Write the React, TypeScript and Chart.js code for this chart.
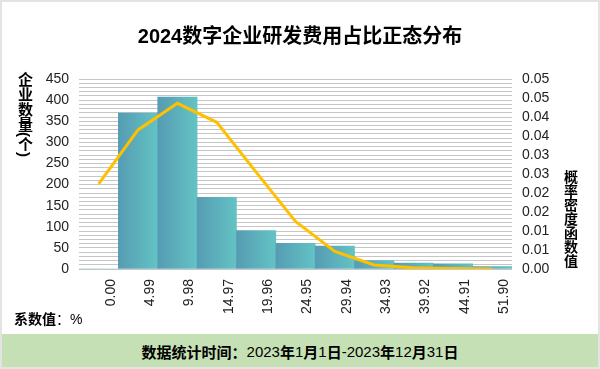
import React, { useEffect, useRef } from "react";
import { Chart, registerables } from "chart.js";

Chart.register(...registerables);

const TITLE = "2024数字企业研发费用占比正态分布";
const categories = ["0.00", "4.99", "9.98", "14.97", "19.96", "24.95", "29.94", "34.93", "39.92", "44.91", "51.90"];
const counts = [0, 369, 407, 170, 91, 61, 54, 20, 14, 12, 6];
const density = [0.0224, 0.0366, 0.0436, 0.0386, 0.0255, 0.0125, 0.0046, 0.00105, 0.0003, 0.0001, 0.00003];
const rightTickLabels = ["0.00", "0.01", "0.01", "0.02", "0.02", "0.03", "0.03", "0.04", "0.04", "0.05", "0.05"];
const LEFT_TITLE = "企业数量(个)";
const RIGHT_TITLE = "概率密度函数值";
const X_NOTE_BOLD = "系数值";
const X_NOTE_REST = "：%";
const FOOTER = "数据统计时间：2023年1月1日-2023年12月31日";

const FONT = '"Liberation Sans", Arial, "Noto Sans CJK SC", sans-serif';

function splitCjk(s: string) {
  const parts: { t: string; cjk: boolean }[] = [];
  for (const ch of s) {
    const cjk = /[\u3000-\u9fff\uff00-\uffef]/.test(ch);
    const last = parts[parts.length - 1];
    if (last && last.cjk === cjk) last.t += ch;
    else parts.push({ t: ch, cjk });
  }
  return parts;
}

export default function App() {
  const ref = useRef<HTMLCanvasElement | null>(null);

  useEffect(() => {
    if (!ref.current) return;
    const chart = new Chart(ref.current, {
      type: "bar",
      data: {
        labels: categories,
        datasets: [
          {
            type: "line",
            data: density,
            yAxisID: "y1",
            borderColor: "#FFC000",
            borderWidth: 3,
            pointRadius: 0,
            tension: 0,
            fill: false,
          } as any,
          {
            type: "bar",
            data: counts,
            yAxisID: "y",
            categoryPercentage: 1,
            barPercentage: 1,
            borderWidth: 0,
            backgroundColor: (c: any) => {
              const ch = c.chart;
              const xs = ch.scales && ch.scales.x;
              if (!xs || c.dataIndex === undefined) return "#5fb3bb";
              const px = xs.getPixelForValue(c.dataIndex);
              const w = xs.width / categories.length;
              const x0 = px - w / 2;
              const x1 = px + w / 2;
              if (!Number.isFinite(x0) || !Number.isFinite(x1) || w <= 0) return "#5fb3bb";
              const g = ch.ctx.createLinearGradient(x0, 0, x1, 0);
              g.addColorStop(0, "#569cb3");
              g.addColorStop(1, "#63c3c4");
              return g;
            },
          },
        ],
      },
      options: {
        animation: false,
        responsive: false,
        maintainAspectRatio: false,
        layout: { padding: { left: 0, right: 0, top: 0, bottom: 0 } },
        plugins: {
          legend: { display: false },
          tooltip: { enabled: false },
          title: {
            display: true,
            text: TITLE,
            color: "#000",
            font: { family: FONT, size: 20, weight: "bold", lineHeight: 1.2 },
            padding: { top: 25.5, bottom: 29.5 },
          },
        },
        scales: {
          x: {
            grid: { display: false, drawTicks: false },
            border: { display: false },
            ticks: {
              minRotation: 90,
              maxRotation: 90,
              autoSkip: false,
              padding: 10,
              labelOffset: 12,
              color: "#222",
              font: { family: FONT, size: 14 },
            },
            afterFit: (s: any) => {
              s.height = 64;
            },
          },
          y: {
            position: "left",
            min: 0,
            max: 450,
            ticks: {
              stepSize: 10,
              autoSkip: false,
              padding: 10,
              color: "#222",
              font: { family: FONT, size: 14 },
              callback: (v: any) => (Number(v) % 50 === 0 ? String(v) : " "),
            },
            grid: { display: true, drawOnChartArea: true, color: "#c6c6c6", lineWidth: 1, drawTicks: false },
            border: { display: false },
            afterFit: (s: any) => {
              s.width = 79;
            },
          },
          y1: {
            position: "right",
            min: 0,
            max: 0.05,
            ticks: {
              stepSize: 0.005,
              autoSkip: false,
              padding: 10,
              color: "#222",
              font: { family: FONT, size: 14 },
              callback: (_v: any, i: number) => rightTickLabels[i] ?? "",
            },
            grid: { display: false, drawTicks: false },
            border: { display: false },
            afterFit: (s: any) => {
              s.width = 88;
            },
          },
        },
      } as any,
    });
    return () => chart.destroy();
  }, []);

  return (
    <div
      style={{
        position: "absolute",
        left: 0,
        top: 0,
        width: 600,
        height: 369,
        background: "#fff",
        fontFamily: FONT,
        overflow: "hidden",
      }}
    >
      <canvas ref={ref} width={600} height={333} style={{ position: "absolute", left: 0, top: 0, width: 600, height: 333 }} />
      <div
        style={{
          position: "absolute",
          left: 17,
          top: 72,
          writingMode: "vertical-rl",
          textOrientation: "mixed",
          fontSize: 15,
          fontWeight: "bold",
          lineHeight: "15px",
          color: "#000",
        }}
      >
        {LEFT_TITLE}
      </div>
      <div
        style={{
          position: "absolute",
          left: 563,
          top: 170,
          writingMode: "vertical-rl",
          textOrientation: "mixed",
          fontSize: 14,
          fontWeight: "bold",
          lineHeight: "14px",
          color: "#000",
        }}
      >
        {RIGHT_TITLE}
      </div>
      <div
        style={{
          position: "absolute",
          left: 14,
          top: 310,
          fontSize: 14,
          lineHeight: "18px",
          color: "#000",
          whiteSpace: "nowrap",
        }}
      >
        <b>{X_NOTE_BOLD}</b>
        {X_NOTE_REST}
      </div>
      <div
        style={{
          position: "absolute",
          left: 0,
          top: 334,
          width: 600,
          height: 35,
          background: "#c5e0b4",
          display: "flex",
          alignItems: "center",
          justifyContent: "center",
          fontSize: 15,
          color: "#000",
          whiteSpace: "nowrap",
        }}
      >
        {splitCjk(FOOTER).map((p, i) => (
          <span key={i} style={{ fontWeight: p.cjk ? "bold" : "normal" }}>
            {p.t}
          </span>
        ))}
      </div>
      <div
        style={{
          position: "absolute",
          left: 0,
          top: 0,
          width: 600,
          height: 369,
          boxSizing: "border-box",
          border: "2px solid #e3e3e3",
          pointerEvents: "none",
        }}
      />
    </div>
  );
}
